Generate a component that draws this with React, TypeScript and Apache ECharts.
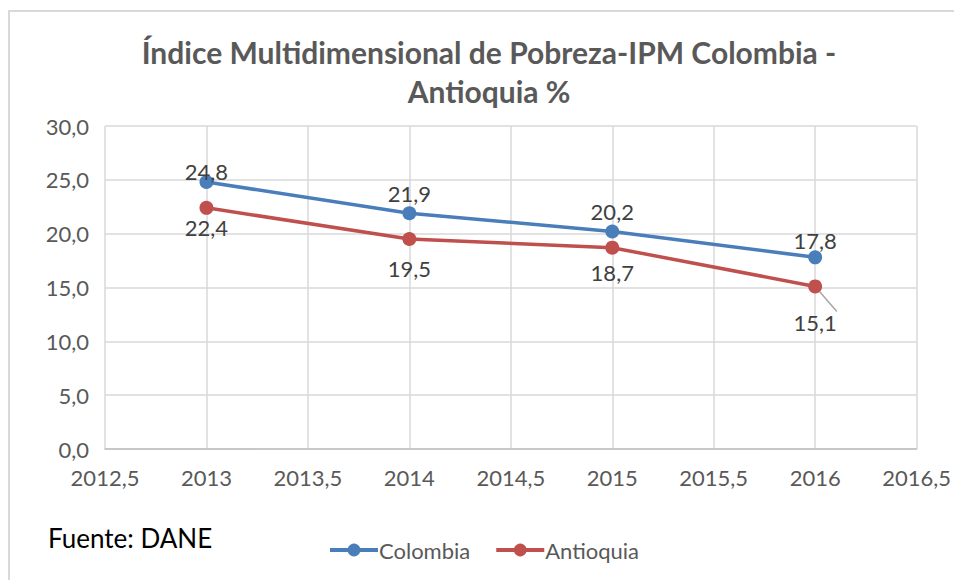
import React, { useEffect, useRef } from "react";
import * as echarts from "echarts";

const years = [2013, 2014, 2015, 2016];
const colombia = [24.8, 21.9, 20.2, 17.8];
const antioquia = [22.4, 19.5, 18.7, 15.1];
const titleText = "Índice Multidimensional de Pobreza-IPM Colombia -\nAntioquia %";
const sourceText = "Fuente: DANE";
const seriesNames = ["Colombia", "Antioquia"];

const fmt1 = (v: number) => v.toFixed(1).replace(".", ",");
const fmtX = (v: number) => String(v).replace(".", ",");

export default function App() {
  const ref = useRef<HTMLDivElement>(null);
  useEffect(() => {
    document.body.style.margin = "0";
    const chart = echarts.init(ref.current!, undefined, { renderer: "svg" });
    const font = "Lato";
    const mk = (vals: number[]) => vals.map((v, i) => [years[i], v]);
    const colDist = [-8, 2, 2, -1];
    const antDist = [2, 11, 7, 18];
    chart.setOption({
      animation: false,
      backgroundColor: "#ffffff",
      textStyle: { fontFamily: font },
      graphic: [
        {
          type: "rect",
          shape: { x: 9, y: 11, width: 1200, height: 1200 },
          style: { fill: "none", stroke: "#d9d9d9", lineWidth: 2 },
          silent: true,
        },
        {
          type: "text",
          x: 489,
          y: 32,
          style: {
            text: titleText,
            fontFamily: font,
            fontSize: 30,
            fontWeight: "bold",
            fill: "#595959",
            lineHeight: 39,
            textAlign: "center",
          },
        },
        {
          type: "text",
          left: 48,
          top: 525,
          style: { text: sourceText, fontFamily: font, fontSize: 26, fill: "#000000" },
        },
      ],
      legend: {
        data: seriesNames,
        left: 323,
        top: 534,
        itemWidth: 48,
        itemHeight: 16,
        itemGap: 24,
        lineStyle: { width: 4 },
        textStyle: { fontFamily: font, fontSize: 22, color: "#595959", padding: [0, 0, 0, -4] },
      },
      grid: { left: 105, right: 34, top: 126, bottom: 131 },
      xAxis: {
        type: "value",
        min: 2012.5,
        max: 2016.5,
        interval: 0.5,
        axisLine: { show: true, lineStyle: { color: "#bfbfbf", width: 1.5 } },
        axisTick: { show: false },
        splitLine: { show: true, lineStyle: { color: "#d9d9d9", width: 1.5 } },
        axisLabel: { formatter: fmtX, fontFamily: font, fontSize: 22, color: "#595959", margin: 17 },
      },
      yAxis: {
        type: "value",
        min: 0,
        max: 30,
        interval: 5,
        axisLine: { show: false },
        axisTick: { show: false },
        splitLine: { show: true, lineStyle: { color: "#d9d9d9", width: 1.5 } },
        axisLabel: { formatter: fmt1, fontFamily: font, fontSize: 22, color: "#595959", margin: 16 },
      },
      series: [
        {
          name: seriesNames[0],
          type: "line",
          data: mk(colombia).map((d, i) => ({ value: d, label: { distance: colDist[i] } })),
          color: "#4a7ebb",
          lineStyle: { width: 3.5 },
          symbol: "circle",
          symbolSize: 14,
          label: {
            show: true,
            position: "top",
            formatter: (p: any) => fmt1(p.value[1]),
            fontFamily: font,
            fontSize: 22,
            color: "#404040",
          },
        },
        {
          name: seriesNames[1],
          type: "line",
          data: mk(antioquia).map((d, i) =>
            i === 3
              ? { value: d, label: { distance: antDist[i] }, labelLine: { show: true, lineStyle: { color: "#a6a6a6", width: 1.5 } } }
              : { value: d, label: { distance: antDist[i] } }
          ),
          color: "#c0504d",
          lineStyle: { width: 3.5 },
          symbol: "circle",
          symbolSize: 14,
          label: {
            show: true,
            position: "bottom",
            formatter: (p: any) => fmt1(p.value[1]),
            fontFamily: font,
            fontSize: 22,
            color: "#404040",
          },
        },
      ],
    });
    return () => chart.dispose();
  }, []);
  return <div ref={ref} style={{ width: 954, height: 580 }} />;
}
